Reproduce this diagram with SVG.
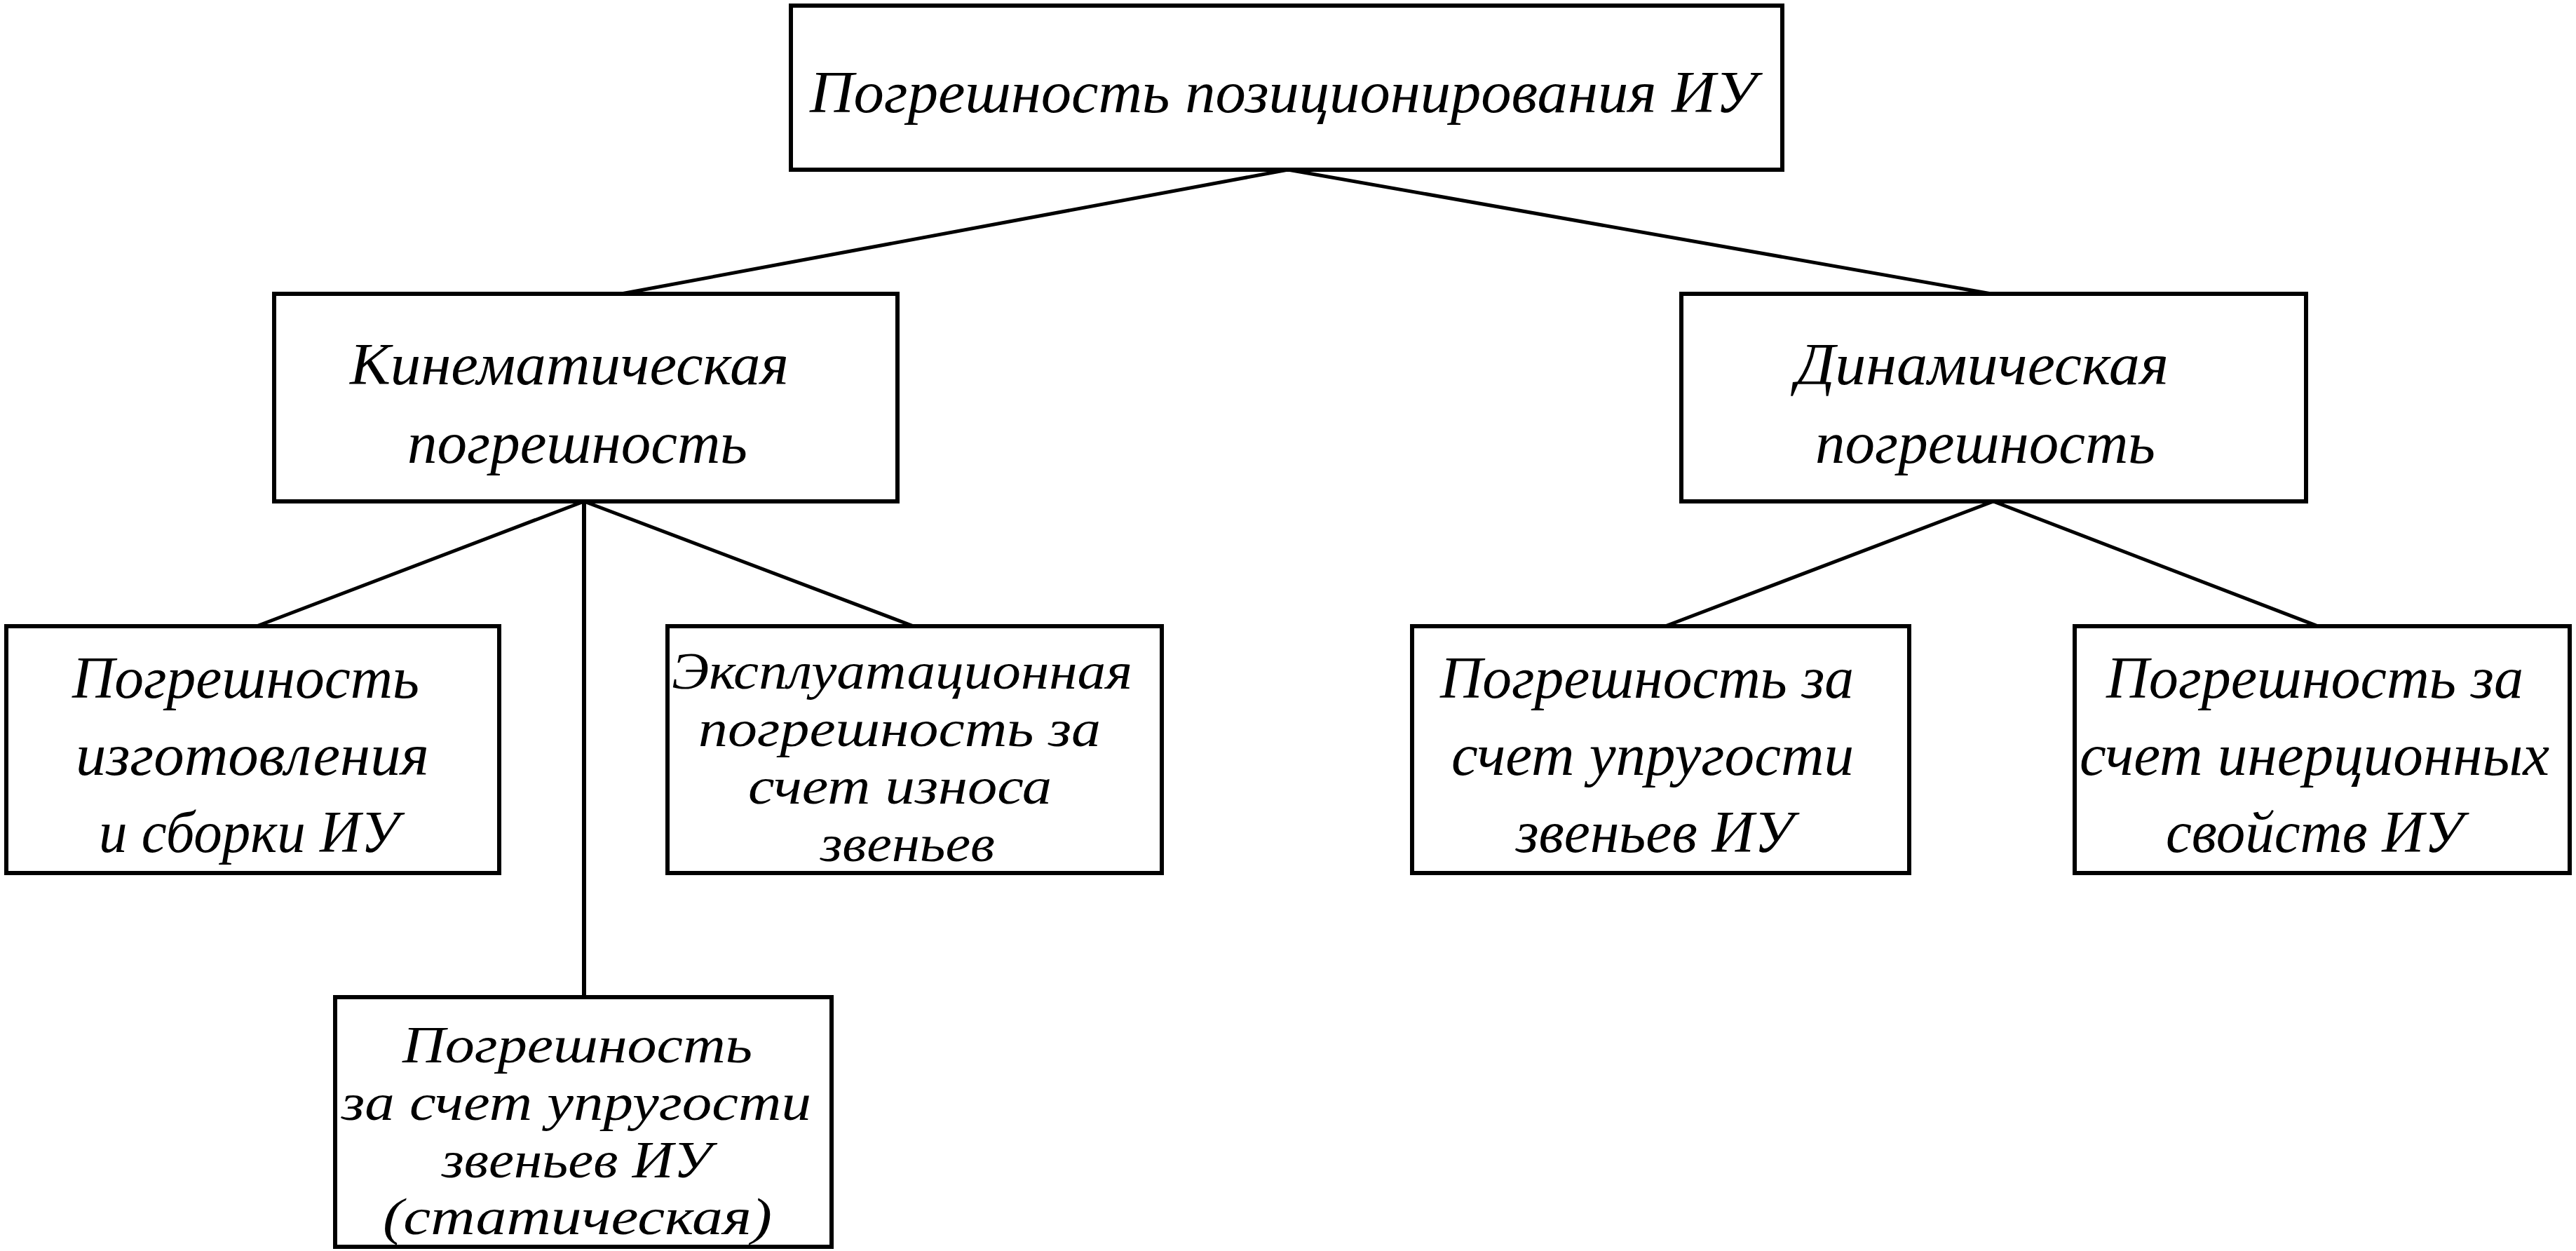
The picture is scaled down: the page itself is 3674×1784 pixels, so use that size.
<svg xmlns="http://www.w3.org/2000/svg" width="3674" height="1784" viewBox="0 0 3674 1784">
<style>
.box{fill:#fff;stroke:#000;stroke-width:6}
.t{font-family:"Liberation Serif","Times New Roman",serif;font-style:italic;font-size:84px;fill:#000}
.s{font-size:74px}
.c{stroke:#000;stroke-width:5;fill:none}
</style>
<rect width="3674" height="1784" fill="#fff"/>
<g id="connectors">
<line class="c" x1="1837" y1="242" x2="886" y2="419"/>
<line class="c" x1="1837" y1="242" x2="2840" y2="419"/>
<line class="c" x1="833" y1="715" x2="366" y2="893"/>
<line class="c" x1="833" y1="715" x2="1303" y2="893"/>
<line class="c" x1="833" y1="715" x2="833" y2="1422" style="stroke-width:6"/>
<line class="c" x1="2843" y1="715" x2="2375" y2="893"/>
<line class="c" x1="2843" y1="715" x2="3306" y2="893"/>
</g>
<g id="root">
<rect class="box" x="1128" y="8" width="1414" height="234"/>
<text class="t" x="1155" y="160" textLength="1350" lengthAdjust="spacingAndGlyphs">Погрешность позиционирования ИУ</text>
</g>
<g id="kinematic">
<rect class="box" x="391" y="419" width="889" height="296"/>
<text class="t" x="499" y="548" textLength="626" lengthAdjust="spacingAndGlyphs">Кинематическая</text>
<text class="t" x="581" y="660" textLength="485" lengthAdjust="spacingAndGlyphs">погрешность</text>
</g>
<g id="dynamic">
<rect class="box" x="2398" y="419" width="891" height="296"/>
<text class="t" x="2561" y="548" textLength="532" lengthAdjust="spacingAndGlyphs">Динамическая</text>
<text class="t" x="2589" y="660" textLength="485" lengthAdjust="spacingAndGlyphs">погрешность</text>
</g>
<g id="manufacturing">
<rect class="box" x="9" y="893" width="703" height="352"/>
<text class="t" x="103" y="995" textLength="495" lengthAdjust="spacingAndGlyphs">Погрешность</text>
<text class="t" x="108" y="1105" textLength="504" lengthAdjust="spacingAndGlyphs">изготовления</text>
<text class="t" x="141" y="1215" textLength="428" lengthAdjust="spacingAndGlyphs">и сборки ИУ</text>
</g>
<g id="wear">
<rect class="box" x="952" y="893" width="705" height="352"/>
<text class="t s" x="958" y="982" textLength="657" lengthAdjust="spacingAndGlyphs">Эксплуатационная</text>
<text class="t s" x="996" y="1064" textLength="574" lengthAdjust="spacingAndGlyphs">погрешность за</text>
<text class="t s" x="1067" y="1146" textLength="433" lengthAdjust="spacingAndGlyphs">счет износа</text>
<text class="t s" x="1170" y="1228" textLength="249" lengthAdjust="spacingAndGlyphs">звеньев</text>
</g>
<g id="static">
<rect class="box" x="478" y="1422" width="708" height="356"/>
<text class="t s" x="574" y="1515" textLength="499" lengthAdjust="spacingAndGlyphs">Погрешность</text>
<text class="t s" x="487" y="1597" textLength="670" lengthAdjust="spacingAndGlyphs">за счет упругости</text>
<text class="t s" x="630" y="1679" textLength="385" lengthAdjust="spacingAndGlyphs">звеньев ИУ</text>
<text class="t s" x="546" y="1760" textLength="555" lengthAdjust="spacingAndGlyphs">(статическая)</text>
</g>
<g id="elasticity">
<rect class="box" x="2014" y="893" width="709" height="352"/>
<text class="t" x="2054" y="995" textLength="590" lengthAdjust="spacingAndGlyphs">Погрешность за</text>
<text class="t" x="2070" y="1105" textLength="574" lengthAdjust="spacingAndGlyphs">счет упругости</text>
<text class="t" x="2162" y="1215" textLength="396" lengthAdjust="spacingAndGlyphs">звеньев ИУ</text>
</g>
<g id="inertia">
<rect class="box" x="2959" y="893" width="706" height="352"/>
<text class="t" x="3004" y="995" textLength="595" lengthAdjust="spacingAndGlyphs">Погрешность за</text>
<text class="t" x="2966" y="1105" textLength="670" lengthAdjust="spacingAndGlyphs">счет инерционных</text>
<text class="t" x="3089" y="1215" textLength="424" lengthAdjust="spacingAndGlyphs">свойств ИУ</text>
</g>
</svg>
